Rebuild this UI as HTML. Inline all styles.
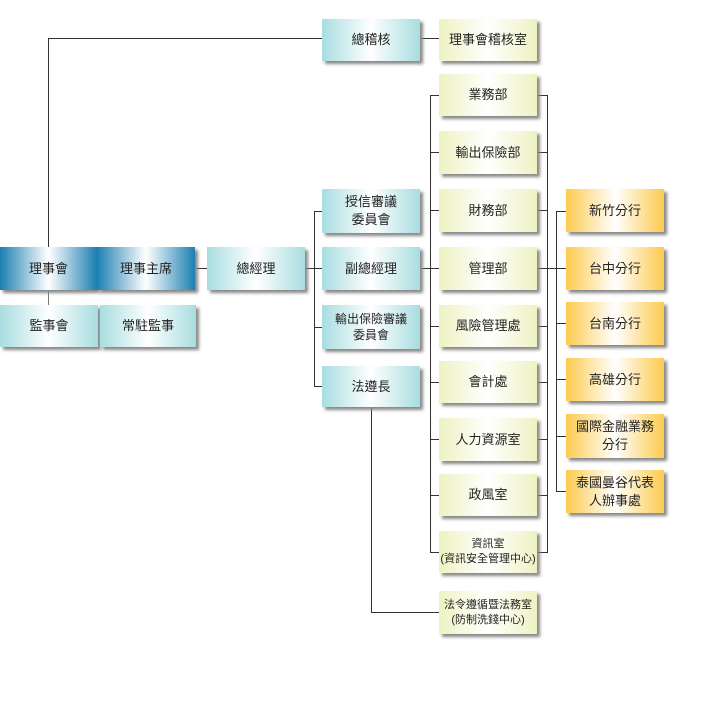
<!DOCTYPE html>
<html><head><meta charset="utf-8"><style>
body{margin:0;width:709px;height:702px;background:#fff;position:relative;overflow:hidden;font-family:"Liberation Sans","Noto Sans CJK TC",sans-serif;}
.b{position:absolute;display:flex;align-items:center;justify-content:center;text-align:center;font-size:13px;color:#222;box-shadow:3px 3px 3px #888;line-height:1.35;}
.d{background:linear-gradient(to right,#1c7fb2,#fff 50%,#1c7fb2);}
.c{background:linear-gradient(to right,#a8dde0,#fff 50%,#a8dde0);}
.y{background:linear-gradient(to right,#eef2c2,#fff 50%,#eef2c2);}
.o{background:linear-gradient(to right,#fccb4e,#fff 50%,#fccb4e);}
.s{font-size:11px;}
.h,.v{position:absolute;background:#333;}
.h{height:1px}.v{width:1px}
</style></head><body>
<!-- lines -->
<div class="v" style="left:48px;top:38px;height:209px"></div>
<div class="h" style="left:48px;top:38px;width:274px"></div>
<div class="h" style="left:420px;top:38px;width:19px"></div>
<div class="v" style="left:48px;top:290px;height:15px;background:#777"></div>
<div class="h" style="left:195px;top:268px;width:12px"></div>
<div class="h" style="left:305px;top:268px;width:17px"></div>
<div class="v" style="left:314px;top:211px;height:176px"></div>
<div class="h" style="left:314px;top:211px;width:8px"></div>
<div class="h" style="left:314px;top:327px;width:8px"></div>
<div class="h" style="left:314px;top:386px;width:8px"></div>
<div class="h" style="left:420px;top:268px;width:19px"></div>
<div class="v" style="left:430px;top:95px;height:458px"></div>
<div class="v" style="left:547px;top:95px;height:458px"></div>
<div class="v" style="left:556px;top:211px;height:281px"></div>
<div class="h" style="left:537px;top:268px;width:29px"></div>
<div class="v" style="left:371px;top:407px;height:205px"></div>
<div class="h" style="left:371px;top:612px;width:68px"></div>
<!-- col3 stubs -->
<div class="h" style="left:430px;top:95px;width:9px"></div><div class="h" style="left:537px;top:95px;width:10px"></div>
<div class="h" style="left:430px;top:152px;width:9px"></div><div class="h" style="left:537px;top:152px;width:10px"></div>
<div class="h" style="left:430px;top:210px;width:9px"></div><div class="h" style="left:537px;top:210px;width:10px"></div>
<div class="h" style="left:430px;top:326px;width:9px"></div><div class="h" style="left:537px;top:326px;width:10px"></div>
<div class="h" style="left:430px;top:382px;width:9px"></div><div class="h" style="left:537px;top:382px;width:10px"></div>
<div class="h" style="left:430px;top:439px;width:9px"></div><div class="h" style="left:537px;top:439px;width:10px"></div>
<div class="h" style="left:430px;top:495px;width:9px"></div><div class="h" style="left:537px;top:495px;width:10px"></div>
<div class="h" style="left:430px;top:552px;width:9px"></div><div class="h" style="left:537px;top:552px;width:10px"></div>
<!-- col4 stubs -->
<div class="h" style="left:556px;top:211px;width:10px"></div>
<div class="h" style="left:556px;top:323px;width:10px"></div>
<div class="h" style="left:556px;top:379px;width:10px"></div>
<div class="h" style="left:556px;top:436px;width:10px"></div>
<div class="h" style="left:556px;top:491px;width:10px"></div>
<!-- boxes -->
<div class="b d" style="left:0;top:247px;width:97px;height:43px">理事會</div>
<div class="b d" style="left:97px;top:247px;width:98px;height:43px">理事主席</div>
<div class="b c" style="left:0;top:305px;width:98px;height:42px">監事會</div>
<div class="b c" style="left:100px;top:305px;width:96px;height:42px">常駐監事</div>
<div class="b c" style="left:207px;top:247px;width:98px;height:43px">總經理</div>
<div class="b c" style="left:322px;top:19px;width:98px;height:42px">總稽核</div>
<div class="b y" style="left:439px;top:19px;width:98px;height:42px">理事會稽核室</div>
<div class="b c" style="left:322px;top:189px;width:98px;height:44px">授信審議<br>委員會</div>
<div class="b c" style="left:322px;top:247px;width:98px;height:43px">副總經理</div>
<div class="b c" style="left:322px;top:305px;width:98px;height:44px;font-size:12px">輸出保險審議<br>委員會</div>
<div class="b c" style="left:322px;top:366px;width:98px;height:41px">法遵長</div>
<div class="b y" style="left:439px;top:74px;width:98px;height:42px">業務部</div>
<div class="b y" style="left:439px;top:131px;width:98px;height:43px">輸出保險部</div>
<div class="b y" style="left:439px;top:189px;width:98px;height:43px">財務部</div>
<div class="b y" style="left:439px;top:247px;width:98px;height:43px">管理部</div>
<div class="b y" style="left:439px;top:305px;width:98px;height:42px">風險管理處</div>
<div class="b y" style="left:439px;top:361px;width:98px;height:42px">會計處</div>
<div class="b y" style="left:439px;top:418px;width:98px;height:43px">人力資源室</div>
<div class="b y" style="left:439px;top:474px;width:98px;height:42px">政風室</div>
<div class="b y s" style="left:439px;top:531px;width:98px;height:42px">資訊室<br>(資訊安全管理中心)</div>
<div class="b y s" style="left:439px;top:591px;width:98px;height:43px">法令遵循暨法務室<br>(防制洗錢中心)</div>
<div class="b o" style="left:566px;top:189px;width:98px;height:43px">新竹分行</div>
<div class="b o" style="left:566px;top:247px;width:98px;height:43px">台中分行</div>
<div class="b o" style="left:566px;top:302px;width:98px;height:43px">台南分行</div>
<div class="b o" style="left:566px;top:358px;width:98px;height:43px">高雄分行</div>
<div class="b o" style="left:566px;top:414px;width:98px;height:44px">國際金融業務<br>分行</div>
<div class="b o" style="left:566px;top:470px;width:98px;height:43px">泰國曼谷代表<br>人辦事處</div>
</body></html>
